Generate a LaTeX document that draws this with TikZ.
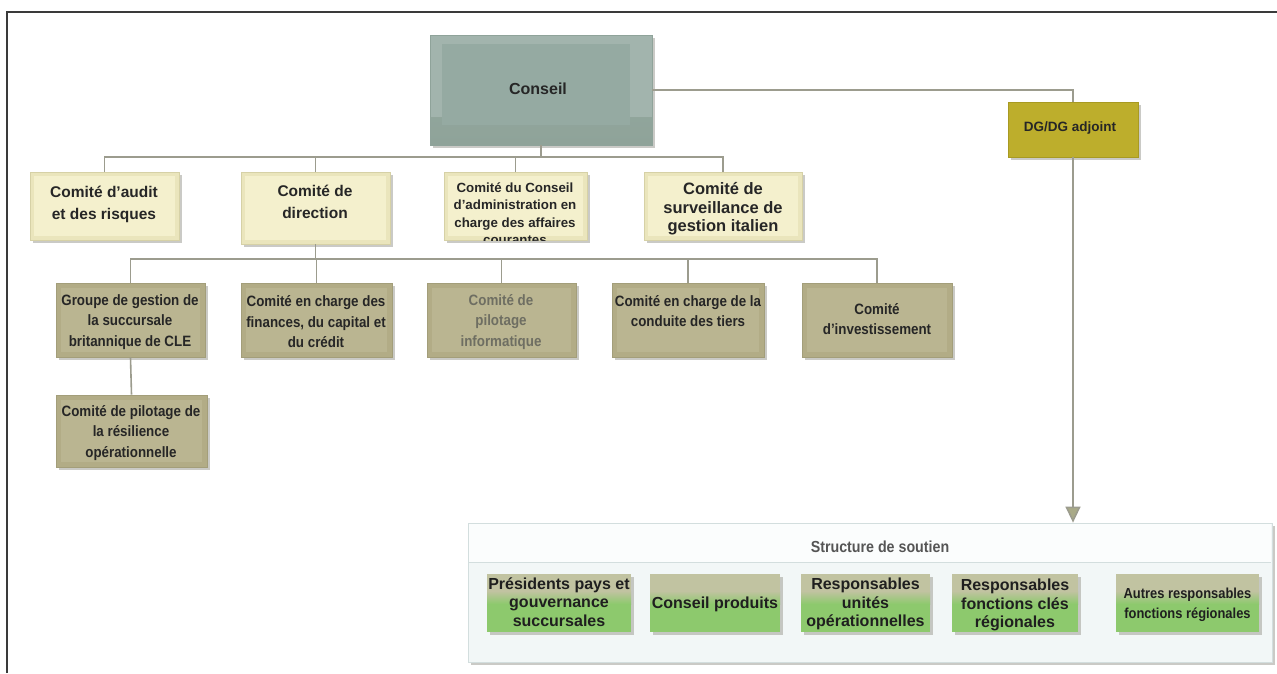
\documentclass[tikz,border=0pt]{standalone}
\usepackage{fontspec}
\setmainfont{Liberation Sans}
\newfontfamily\condf{Liberation Sans}[FakeStretch=0.89]
\usetikzlibrary{shadows,arrows.meta}
\definecolor{framec}{HTML}{3A3A3A}
\definecolor{linec}{HTML}{9C9C8E}
\definecolor{txtc}{HTML}{262626}
\definecolor{greytxt}{HTML}{6E6E62}
\definecolor{conseilout}{HTML}{A2B4AD}
\definecolor{conseilin}{HTML}{95AAA2}
\definecolor{conseilbot}{HTML}{8FA399}
\definecolor{conseilline}{HTML}{8FA39A}
\definecolor{creamout}{HTML}{EAE5BC}
\definecolor{creamin}{HTML}{F4F0CD}
\definecolor{creamline}{HTML}{D6D1A6}
\definecolor{dgfill}{HTML}{BDAE2C}
\definecolor{dgline}{HTML}{A89A22}
\definecolor{khakiout}{HTML}{B2AC86}
\definecolor{khakiin}{HTML}{BAB591}
\definecolor{khakiline}{HTML}{A39E7A}
\definecolor{shadowc}{HTML}{A8A8A0}
\definecolor{supfill}{HTML}{F2F7F7}
\definecolor{supline}{HTML}{D3DEDE}
\definecolor{suphead}{HTML}{FBFDFD}
\definecolor{greenc}{HTML}{8DC96D}
\definecolor{greentop}{HTML}{C1C3A1}
\definecolor{arrowfill}{HTML}{A9AA88}
\definecolor{soutientxt}{HTML}{555555}
\begin{document}
\begin{tikzpicture}[x=1pt,y=-1pt,
  boxbase/.style={draw, inner sep=0pt, line width=0.8pt,
    drop shadow={shadow xshift=2.5pt, shadow yshift=-2.5pt, fill=shadowc, opacity=.6}},
  cream/.style={boxbase, fill=creamout, draw=creamline,
    path picture={\fill[creamin] ([shift={(4pt,-4pt)}]path picture bounding box.north west) rectangle ([shift={(-4pt,4pt)}]path picture bounding box.south east);}},
  khaki/.style={boxbase, fill=khakiout, draw=khakiline,
    path picture={\fill[khakiin] ([shift={(5pt,-5pt)}]path picture bounding box.north west) rectangle ([shift={(-5pt,5pt)}]path picture bounding box.south east);}},
  greenbox/.style={boxbase, fill=greenc, draw=none,
    path picture={\fill[greentop] (path picture bounding box.north west) rectangle ([yshift=-17pt]path picture bounding box.north east);
      \shade[top color=greentop, bottom color=greenc] ([yshift=-17pt]path picture bounding box.north west) rectangle ([yshift=-30pt]path picture bounding box.north east);}},
  conseilbox/.style={boxbase, fill=conseilout, draw=conseilline,
    path picture={\shade[top color=conseilin, bottom color=conseilbot] ([yshift=28pt]path picture bounding box.south west) rectangle (path picture bounding box.south east);
      \fill[conseilin] ([shift={(12pt,-9pt)}]path picture bounding box.north west) rectangle ([shift={(-22pt,20pt)}]path picture bounding box.south east);}},
  dgbox/.style={boxbase, fill=dgfill, draw=dgline},
  supbox/.style={boxbase, fill=supfill, draw=supline},
  conn/.style={draw=linec, line width=1.6pt},
  txt/.style={inner sep=0pt, align=center, text=txtc},
  tbig/.style={txt, font=\bfseries\fontsize{15.5}{22}\selectfont},
  tsurv/.style={txt, font=\bfseries\fontsize{16.5}{18.5}\selectfont},
  tadmin/.style={txt, font=\bfseries\fontsize{13.3}{17.4}\selectfont},
  trow/.style={txt, font=\condf\bfseries\fontsize{15}{20.5}\selectfont},
  tgreen/.style={txt, text=black!88, font=\bfseries\fontsize{16}{18.5}\selectfont},
  tgsmall/.style={txt, text=black!88, font=\condf\bfseries\fontsize{14.5}{20}\selectfont}
]
\useasboundingbox (0,0) rectangle (1277,673);
\fill[white] (0,0) rectangle (1277,673);
% frame
\draw[draw=framec, line width=1.5pt] (7,673) -- (7,12) -- (1277,12);

% boxes
\node[conseilbox, minimum width=222pt, minimum height=110pt] (conseil) at (541,90) {};
\node[dgbox, minimum width=130pt, minimum height=55pt] (dg) at (1073,129.5) {};
\node[cream, minimum width=149pt, minimum height=68pt] (audit) at (104.5,206) {};
\node[cream, minimum width=149pt, minimum height=72pt] (direction) at (315.5,208) {};
\node[cream, minimum width=143pt, minimum height=68pt] (cadmin) at (515.5,206) {};
\node[cream, minimum width=158pt, minimum height=68pt] (surv) at (723,206) {};
\node[khaki, minimum width=149pt, minimum height=74pt] (b1) at (130.5,320) {};
\node[khaki, minimum width=151pt, minimum height=74pt] (b2) at (316.5,320) {};
\node[khaki, minimum width=149pt, minimum height=74pt] (b3) at (501.5,320) {};
\node[khaki, minimum width=152pt, minimum height=74pt] (b4) at (688,320) {};
\node[khaki, minimum width=150pt, minimum height=74pt] (b5) at (877,320) {};
\node[khaki, minimum width=151pt, minimum height=72pt] (b6) at (131.5,431) {};
\node[supbox, minimum width=804pt, minimum height=139pt] (support) at (870,592.5) {};
\node[fill=suphead, inner sep=0pt, minimum width=802pt, minimum height=39pt] (suphd) at (870,543) {};
\draw[draw=supline, line width=0.6pt] (suphd.south west) -- (suphd.south east);
\node[greenbox, minimum width=144pt, minimum height=58pt] (g1) at (559,603) {};
\node[greenbox, minimum width=130pt, minimum height=58pt] (g2) at (715,603) {};
\node[greenbox, minimum width=129pt, minimum height=58pt] (g3) at (865.5,603) {};
\node[greenbox, minimum width=126pt, minimum height=58pt] (g4) at (1015,603) {};
\node[greenbox, minimum width=143pt, minimum height=58pt] (g5) at (1187.5,603) {};

% connectors
\coordinate (bus1) at (541,157);
\coordinate (bus2) at (315.5,259);
\draw[conn] (conseil.south) -- (bus1);
\draw[conn] (audit.north) |- (bus1);
\draw[conn] (direction.north) |- (bus1);
\draw[conn] (cadmin.north) |- (bus1);
\draw[conn] (surv.north) |- (bus1);
\draw[conn] (direction.south) -- (bus2);
\draw[conn] (b1.north) |- (bus2);
\draw[conn] (b2.north) |- (bus2);
\draw[conn] (b3.north) |- (bus2);
\draw[conn] (b4.north) |- (bus2);
\draw[conn] (b5.north) |- (bus2);
\draw[conn] (b1.south) -- (b6.north);
\draw[conn] (conseil.east) -| (dg.north);
\draw[conn, -{Triangle[width=15pt,length=16pt,fill=arrowfill]}] (dg.south) -- (dg.south |- support.north);

% texts
\node[txt, font=\bfseries\fontsize{16}{19}\selectfont] (tconseil) at (538,89) {Conseil};
\node[txt, font=\bfseries\fontsize{13.5}{16}\selectfont] (tdg) at (1070,128) {DG/DG adjoint};
\node[tbig] (taudit) at (104,204) {Comité d’audit\\et des risques};
\node[tbig] (tdirection) at (315,202) {Comité de\\direction};
\begin{scope}
\clip (cadmin.north west) rectangle (cadmin.south east);
\node[tadmin] (tcadmin) at (515,213.5) {Comité du Conseil\\d’administration en\\charge des affaires\\courantes};
\end{scope}
\node[tsurv] (tsurv) at (723,209) {Comité de\\surveillance de\\gestion italien};
\node[trow] (tb1) at (130,322) {Groupe de gestion de\\la succursale\\britannique de CLE};
\node[trow] (tb2) at (316,322) {Comité en charge des\\finances, du capital et\\du crédit};
\node[trow, text=greytxt] (tb3) at (501,322) {Comité de\\pilotage\\informatique};
\node[trow] (tb4) at (688,311) {Comité en charge de la\\conduite des tiers};
\node[trow] (tb5) at (877,319) {Comité\\d’investissement};
\node[trow] (tb6) at (131,433) {Comité de pilotage de\\la résilience\\opérationnelle};
\node[txt, text=soutientxt, font=\condf\bfseries\fontsize{16}{19}\selectfont] (tsup) at (880,547) {Structure de soutien};
\node[tgreen] (tg1) at (559,602) {Présidents pays et\\gouvernance\\succursales};
\node[tgreen] (tg2) at (715,604) {Conseil produits};
\node[tgreen] (tg3) at (865.5,604) {Responsables\\unités\\opérationnelles};
\node[tgreen] (tg4) at (1015,605) {Responsables\\fonctions clés\\régionales};
\node[tgsmall] (tg5) at (1187.5,605) {Autres responsables\\fonctions régionales};
\end{tikzpicture}
\end{document}
